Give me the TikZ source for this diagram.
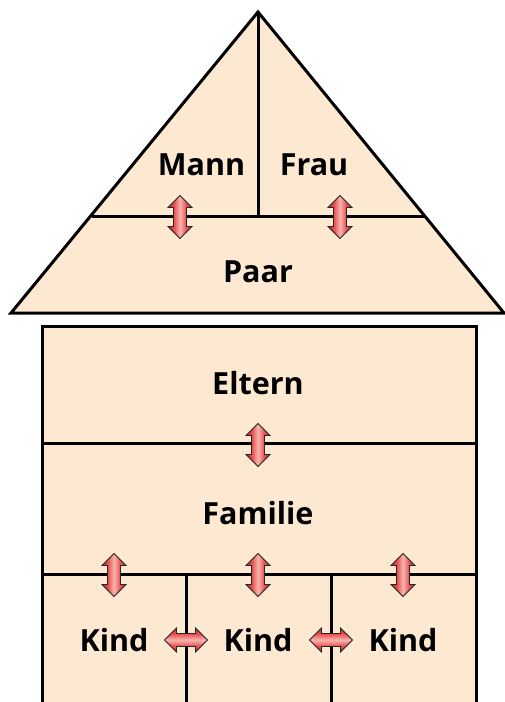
\documentclass[tikz,border=0pt]{standalone}
\usepackage{fontspec}
\setmainfont{Open Sans}
\definecolor{peach}{RGB}{253,233,210}
\definecolor{arrowred}{RGB}{222,44,48}
\definecolor{arrowpink}{RGB}{248,182,174}
% red across the width, light streak along the middle
% (the inner 25bp--75bp band spans the shaded path)
\pgfdeclarehorizontalshading{redbar}{100bp}{%
  color(0bp)=(arrowred); color(29bp)=(arrowred);
  color(38bp)=(arrowred!70!arrowpink);
  color(50bp)=(arrowpink);
  color(62bp)=(arrowred!70!arrowpink);
  color(71bp)=(arrowred); color(100bp)=(arrowred)}
\tikzset{
  wall/.style={draw=black, line width=3pt, fill=peach, line join=miter},
  rule/.style={draw=black, line width=3pt},
  lbl/.style={font=\fontsize{30.5}{36}\selectfont\bfseries, inner sep=0pt},
  arrowskin/.style={draw=black!85, line width=0.8pt, line join=miter},
  pics/vdarrow/.style={code={
    \shade[arrowskin, shading=redbar]
      (0,-21.5) -- (12,-9.5) -- (6.5,-9.5) -- (6.5,9.5) -- (12,9.5) -- (0,21.5)
      -- (-12,9.5) -- (-6.5,9.5) -- (-6.5,-9.5) -- (-12,-9.5) -- cycle;
  }},
  pics/hdarrow/.style={code={
    \shade[arrowskin, shading=redbar, shading angle=90]
      (-21.5,0) -- (-9.5,12) -- (-9.5,6.5) -- (9.5,6.5) -- (9.5,12) -- (21.5,0)
      -- (9.5,-12) -- (9.5,-6.5) -- (-9.5,-6.5) -- (-9.5,-12) -- cycle;
  }},
}
\begin{document}
\begin{tikzpicture}[x=1pt, y=-1pt]
  \useasboundingbox (0,0) rectangle (505,702);
  \clip (0,0) rectangle (505,702);

  % roof
  \coordinate (apex) at (258,12);
  \coordinate (eaveL) at (11,313);
  \coordinate (eaveR) at (504,313);
  \path[wall] (apex) -- (eaveL) -- (eaveR) -- cycle;
  \coordinate (roofL) at (91.5,216);
  \coordinate (roofR) at (424.5,216);
  \coordinate (roofM) at (258,216);
  \draw[rule] (roofL) -- (roofR);
  \draw[rule] (apex) -- (roofM);

  % house body
  \path[wall] (42,720) -- (42,326) -- (476,326) -- (476,720);
  \coordinate (e1L) at (42,443);  \coordinate (e1R) at (476,443);
  \coordinate (e2L) at (42,574);  \coordinate (e2R) at (476,574);
  \draw[rule] (e1L) -- (e1R);
  \draw[rule] (e2L) -- (e2R);
  \coordinate (k1) at (186,574); \coordinate (k1b) at (186,720);
  \coordinate (k2) at (331,574); \coordinate (k2b) at (331,720);
  \draw[rule] (k1) -- (k1b);
  \draw[rule] (k2) -- (k2b);

  % labels
  \node[lbl] (mann) at (201.5,165) {Mann};
  \node[lbl] (frau) at (314,165) {Frau};
  \node[lbl] (paar) at (258,272) {Paar};
  \node[lbl] (eltern) at (258,383) {Eltern};
  \node[lbl] (familie) at (258,513) {Familie};
  \node[lbl] (kindA) at (114,640) {Kind};
  \node[lbl] (kindB) at (258,640) {Kind};
  \node[lbl] (kindC) at (403,640) {Kind};

  % links between the cells
  \pic (mannPaar) at (180,217) {vdarrow};
  \pic (frauPaar) at (340,217) {vdarrow};
  \pic (elternFamilie) at (258,445) {vdarrow};
  \pic (familieA) at (114,575) {vdarrow};
  \pic (familieB) at (258,575) {vdarrow};
  \pic (familieC) at (403,575) {vdarrow};
  \pic (kindAB) at (186,640) {hdarrow};
  \pic (kindBC) at (331,640) {hdarrow};
\end{tikzpicture}
\end{document}
